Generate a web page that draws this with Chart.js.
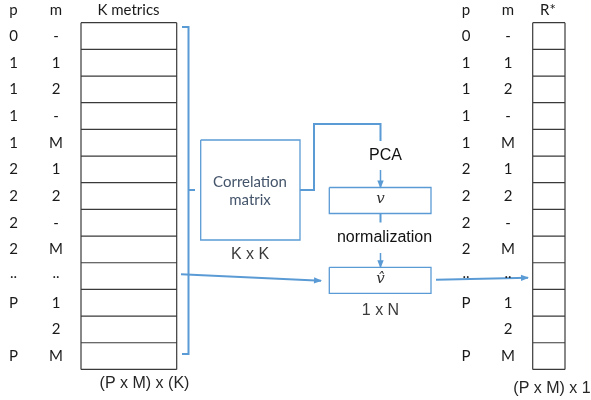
<!DOCTYPE html>
<html>
<head>
<meta charset="utf-8">
<script src="https://cdn.jsdelivr.net/npm/chart.js@4.4.1/dist/chart.umd.min.js"></script>
<style>
  html, body { margin: 0; padding: 0; background: #fff; }
  #wrap { width: 591px; height: 400px; }
</style>
</head>
<body>
<div id="wrap"><canvas id="diagram"></canvas></div>
<script>
// row labels (same for both tables)
const pLabels = ['0', '1', '1', '1', '1', '2', '2', '2', '2', '..', 'P', '', 'P'];
const mLabels = ['-', '1', '2', '-', 'M', '1', '2', '-', 'M', '..', '1', '2', 'M'];
const leftHeaders = ['p', 'm', 'K metrics'];
const rightHeaders = ['p', 'm', 'R*'];
const leftCaption = '(P x M) x (K)';
const rightCaption = '(P x M) x 1';
const corrLabels = ['Correlation', 'matrix'];
const stepLabels = ['PCA', 'normalization'];
const sizeLabels = ['K x K', '1 x N'];
const vecLabels = ['v', 'v\u0302'];

// layout of the picture (in canvas units)
const ROW_TOP = 22.7;
const ROW_H = 26.67;
const nRows = pLabels.length;
const rowY = i => ROW_TOP + i * ROW_H;
const rowMid = i => rowY(i) + ROW_H / 2;

const BLUE = '#5b9bd5';
const GRID = '#3a3a3a';

function tablePoints(x0, x1) {
    const pts = [];
    for (let i = 0; i <= nRows; i++) {
        pts.push({x: x0, y: rowY(i)}, {x: x1, y: rowY(i)}, {x: x0, y: null});
    }
    pts.push({x: x0, y: rowY(0)}, {x: x0, y: rowY(nRows)}, {x: x0, y: null});
    pts.push({x: x1, y: rowY(0)}, {x: x1, y: rowY(nRows)});
    return pts;
}

function rect(x0, y0, x1, y1) {
    return [{x: x0, y: y0}, {x: x1, y: y0}, {x: x1, y: y1}, {x: x0, y: y1}, {x: x0, y: y0}];
}

function line(points, color, width, arrow) {
    return {
        type: 'line',
        data: points,
        borderColor: color,
        borderWidth: width,
        pointRadius: 0,
        fill: false,
        spanGaps: false,
        tension: 0,
        clip: false,
        arrow: !!arrow
    };
}

const datasets = [
    line(tablePoints(81, 176.7), GRID, 1.2),
    line(tablePoints(532.7, 565), GRID, 1.2),
    // bracket
    line([{x: 182, y: 27}, {x: 188.5, y: 27}, {x: 188.5, y: 354}, {x: 182, y: 354}, {x: 182, y: null},
          {x: 188.5, y: 190}, {x: 195, y: 190}], BLUE, 2),
    // correlation box
    line(rect(200.7, 140, 300, 240), BLUE, 1.3),
    // connector to PCA
    line([{x: 300, y: 190}, {x: 314, y: 190}, {x: 314, y: 124}, {x: 380.5, y: 124}, {x: 380.5, y: 141}], BLUE, 2),
    line([{x: 380.5, y: 170}, {x: 380.5, y: 187.5}], BLUE, 1.5, true),
    // v box
    line(rect(329.3, 187.5, 431, 213.5), BLUE, 1.3),
    line([{x: 380.5, y: 213.5}, {x: 380.5, y: 222.5}], BLUE, 2),
    line([{x: 380.5, y: 253}, {x: 380.5, y: 267.3}], BLUE, 1.5, true),
    // v hat box
    line(rect(329.3, 267.3, 431, 293.3), BLUE, 1.3),
    // arrow from table to v hat
    line([{x: 181, y: 274.3}, {x: 321, y: 280.7}], BLUE, 2, true),
    // arrow from v hat to R*
    line([{x: 436, y: 279.8}, {x: 528, y: 277.7}], BLUE, 2, true)
];

const arrowHeads = {
    id: 'arrowHeads',
    afterDatasetsDraw(chart) {
        const ctx = chart.ctx;
        const xs = chart.scales.x, ys = chart.scales.y;
        chart.data.datasets.forEach(ds => {
            if (!ds.arrow) return;
            const pts = ds.data.filter(p => p.y !== null);
            const a = pts[pts.length - 2], b = pts[pts.length - 1];
            const ax = xs.getPixelForValue(a.x), ay = ys.getPixelForValue(a.y);
            const bx = xs.getPixelForValue(b.x), by = ys.getPixelForValue(b.y);
            const ang = Math.atan2(by - ay, bx - ax);
            const len = 7, half = 3.2;
            ctx.save();
            ctx.fillStyle = ds.borderColor;
            ctx.translate(bx, by);
            ctx.rotate(ang);
            ctx.beginPath();
            ctx.moveTo(1, 0);
            ctx.lineTo(-len, -half);
            ctx.lineTo(-len, half);
            ctx.closePath();
            ctx.fill();
            ctx.restore();
        });
    }
};

const SANS = '"Lato", "Noto Sans", sans-serif';
const ARIAL = '"Liberation Sans", Arial, sans-serif';
const SERIF = '"DejaVu Serif", "Liberation Serif", serif';

const textLabels = {
    id: 'textLabels',
    afterDatasetsDraw(chart) {
        const ctx = chart.ctx;
        const xs = chart.scales.x, ys = chart.scales.y;
        const put = (txt, x, y, font, color) => {
            ctx.font = font;
            ctx.fillStyle = color || '#1a1a1a';
            ctx.fillText(txt, xs.getPixelForValue(x), ys.getPixelForValue(y));
        };
        ctx.save();
        ctx.textAlign = 'center';
        ctx.textBaseline = 'middle';

        const headerFont = '15px ' + SANS;
        const cellFont = '15px ' + SANS;
        [13.5, 56, 128.5].forEach((x, i) => put(leftHeaders[i], x, 10.5, headerFont));
        [466, 508, 548].forEach((x, i) => put(rightHeaders[i], x, 10.5, headerFont));
        for (let i = 0; i < nRows; i++) {
            const y = rowMid(i) + (pLabels[i] === '..' ? -3 : 0);
            put(pLabels[i], 13.5, y, cellFont);
            put(mLabels[i], 56, rowMid(i) + (mLabels[i] === '..' ? -3 : 0), cellFont);
            put(pLabels[i], 466, y, cellFont);
            put(mLabels[i], 508, rowMid(i) + (mLabels[i] === '..' ? -3 : 0), cellFont);
        }
        put(leftCaption, 144.5, 384, '16px ' + ARIAL, '#262626');
        put(rightCaption, 552, 388.5, '16px ' + ARIAL, '#262626');

        put(corrLabels[0], 250, 182, '15px ' + SANS, '#44546a');
        put(corrLabels[1], 250, 200.5, '15px ' + SANS, '#44546a');
        put(sizeLabels[0], 250, 254.5, '16px ' + ARIAL, '#3b3b3b');
        put(sizeLabels[1], 380.5, 311, '16px ' + ARIAL, '#3b3b3b');

        put(stepLabels[0], 385.5, 156, '16px ' + ARIAL, '#111');
        put(stepLabels[1], 384.5, 237.5, '16px ' + ARIAL, '#111');

        put(vecLabels[0], 380.5, 199.5, 'italic 15px ' + SERIF, '#333');
        put(vecLabels[1], 380.5, 279.5, 'italic 15px ' + SERIF, '#333');
        ctx.restore();
    }
};

new Chart(document.getElementById('diagram'), {
    type: 'line',
    data: { datasets },
    options: {
        responsive: true,
        maintainAspectRatio: false,
        animation: false,
        layout: { padding: 0 },
        plugins: { legend: { display: false }, tooltip: { enabled: false } },
        scales: {
            x: { type: 'linear', min: 0, max: 591, display: false },
            y: { type: 'linear', min: 0, max: 400, reverse: true, display: false }
        }
    },
    plugins: [arrowHeads, textLabels]
});
</script>
</body>
</html>
